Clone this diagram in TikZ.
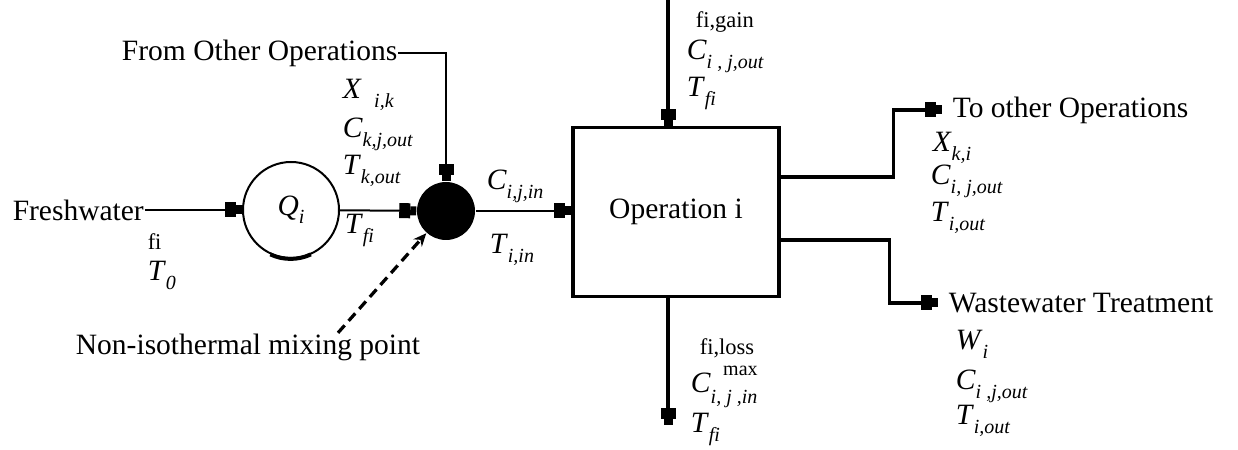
\documentclass[tikz,border=0pt]{standalone}
\usepackage{fontspec}
\setmainfont{Liberation Serif}
\usetikzlibrary{arrows.meta, positioning}

\newcommand{\subf}{\fontsize{8}{9}\selectfont}
\newcommand{\vr}[2]{\textit{#1}\raisebox{-0.6ex}{\subf\textit{#2}}}

\tikzset{Plug/.tip = {Rectangle[length=4.4pt, width=6pt] Rectangle[length=2.4pt, width=3.6pt]}}

\begin{document}
\begin{tikzpicture}[> = Plug, % plug-like arrow heads
                x = 0.4pt, y = -0.4pt, % pixel grid, y pointing down
                semithick % line style
            ]

            \tikzstyle{every node}=[inner sep = 0pt, font = \fontsize{11.8}{14}\selectfont]
            \tikzstyle{pipe}=[line width = 0.8pt, ->]
            \tikzstyle{main pipe}=[line width = 1.4pt, ->]
            \tikzstyle{var}=[anchor = base west]
            \tikzstyle{note}=[anchor = base west, font = \fontsize{9}{10}\selectfont]

            \useasboundingbox (0, 0) rectangle (1238, 450);

            \node (fresh) [anchor = west] at (12, 210) {Freshwater};
            \node (heater) [draw, circle, line width = 0.8pt, minimum size = 38.4pt] at (291, 210) {\vr{Q}{i}};
            \node (mix) [circle, fill, minimum size = 23.2pt] at (446, 211) {};
            \node (op) [draw, line width = 1.3pt, minimum width = 82.4pt, minimum height = 67.6pt] at (676, 212) {Operation i};
            \node (from) [anchor = east] at (398, 53) {From Other Operations};
            \node (toop) [anchor = west, inner xsep = 4pt] at (942, 110) {To other Operations};
            \node (ww) [anchor = west, inner xsep = 4pt] at (938, 303) {Wastewater Treatment};
            \node (nip) at (248, 347) {Non-isothermal mixing point};
            \coordinate (gain) at (668, 0);
            \coordinate (loss) at (668, 425);

            % stream labels
            \node (fi0) [note] at (147, 250) {fi};
            \node (t0) [var] at (147, 281) {\vr{T}{0}};
            \node (xik) [var] at (342, 99) {\textit{X}\kern5pt\raisebox{-0.6ex}{\subf\textit{i,k}}};
            \node (ckj) [var] at (342, 138) {\vr{C}{k,j,out}};
            \node (tk) [var] at (342, 175) {\vr{T}{k,out}};
            \node (tfi) [var] at (344, 234) {\vr{T}{fi}};
            \node (cin) [var] at (486, 190) {\vr{C}{i,j,in}};
            \node (tin) [var] at (489, 254) {\vr{T}{i,in}};
            \node (fig) [note] at (695, 28) {fi,gain};
            \node (cg) [var] at (686, 60) {\vr{C}{i , j,out}};
            \node (tg) [var] at (686, 97) {\vr{T}{fi}};
            \node (fil) [note] at (699, 355) {fi,loss};
            \node (cl) [var] at (690, 393) {\textit{C}\rlap{\raisebox{1.3ex}{\subf\hspace{5pt}max}}\raisebox{-0.8ex}{\subf\textit{i, j ,in}}};
            \node (tl) [var] at (690, 433) {\vr{T}{fi}};
            \node (xki) [var] at (932, 152) {\vr{X}{k,i}};
            \node (co) [var] at (930, 185) {\vr{C}{i, j,out}};
            \node (to) [var] at (930, 222) {\vr{T}{i,out}};
            \node (wi) [var] at (955, 350) {\vr{W}{i}};
            \node (cw) [var] at (955, 390) {\vr{C}{i ,j,out}};
            \node (tw) [var] at (955, 425) {\vr{T}{i,out}};

            \draw[line width = 1.6pt] (heater.245) arc[start angle = 245, end angle = 295, radius = 19.2pt];

            \draw[pipe] (fresh) -- (heater);
            \draw[pipe] (heater) -- (mix);
            \draw[pipe] (from) -| (mix);
            \draw[pipe] (mix) -- (op.west |- mix);
            \draw[main pipe] (gain) -- (gain |- op.north);
            \draw[main pipe] (op.south -| loss) -- (loss);
            \draw[main pipe] ([yshift = 14pt]op.east) -- ++(113, 0) |- (toop);
            \draw[main pipe] ([yshift = -11.2pt]op.east) -- ++(109, 0) |- (ww);
            \draw[line width = 1.3pt, dash pattern = on 4pt off 2.4pt, -{Stealth[length = 5.2pt, width = 4.5pt]}] ([xshift = 36pt]nip.north) -- (mix);
        \end{tikzpicture}
\end{document}
